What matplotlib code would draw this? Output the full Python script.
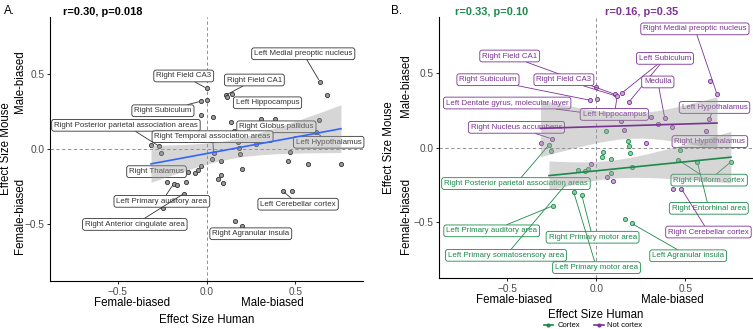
import numpy as np
import matplotlib
matplotlib.use("Agg")
import matplotlib.pyplot as plt
from matplotlib.lines import Line2D

plt.rcParams['font.family'] = ['Liberation Sans', 'DejaVu Sans']

# effect sizes per brain region (human, mouse) and cortex flag
human_es = [0.637, 0.678, 0.000, 0.002, -0.032, 0.107, 0.118, 0.144, 0.182,
            -0.312, -0.250, 0.138, 0.154, 0.305, 0.385, 0.349, 0.423, 0.280,
            0.617, 0.633, -0.030, 0.062, 0.092, 0.430, 0.478, 0.039, -0.030,
            0.056, 0.176, 0.184, 0.190, -0.265, -0.256, 0.040, 0.032, 0.083,
            0.468, 0.458, 0.568, 0.756, 0.200, -0.047, -0.062, -0.103, 0.083,
            -0.115, -0.221, -0.185, -0.165, -0.127, -0.081, -0.242, 0.163, 0.199]
mouse_es = [0.450, 0.360, 0.405, 0.327, 0.318, 0.358, 0.345, 0.367, 0.304,
            0.030, 0.059, 0.177, 0.117, 0.203, 0.198, 0.158, 0.138, 0.032,
            0.111, 0.191, -0.110, -0.200, -0.225, -0.281, -0.278, 0.213, 0.229,
            0.108, 0.045, 0.008, -0.036, 0.017, -0.025, -0.027, -0.065, -0.079,
            -0.018, -0.082, -0.100, -0.097, -0.134, -0.143, -0.157, -0.152, -0.172,
            -0.220, -0.220, -0.233, -0.242, -0.297, -0.320, -0.393, -0.480, -0.512]
is_cortex = [False] * 27 + [True] * 27

stats_a = "r=0.30, p=0.018"
stats_cortex = "r=0.33, p=0.10"
stats_other = "r=0.16, p=0.35"

# label text, text position (x, y), index of point(s) it refers to
labels_a = [
    ("Left Medial preoptic nucleus", 0.544, 0.635, [0]),
    ("Right Field CA3", -0.128, 0.487, [2]),
    ("Right Field CA1", 0.269, 0.460, [5]),
    ("Left Hippocampus", 0.343, 0.308, []),
    ("Right Subiculum", -0.245, 0.255, [4]),
    ("Right Posterior parietal association areas", -0.453, 0.158, [31]),
    ("Right Globus pallidus", 0.393, 0.148, []),
    ("Right Temporal association areas", 0.034, 0.082, [33]),
    ("Left Hypothalamus", 0.687, 0.045, [18]),
    ("Right Thalamus", -0.281, -0.151, []),
    ("Left Primary auditory area", -0.251, -0.349, [47]),
    ("Right Anterior cingulate area", -0.403, -0.503, [49]),
    ("Left Cerebellar cortex", 0.515, -0.368, [23]),
    ("Right Agranular insula", 0.249, -0.565, [53]),
]
labels_b = [
    ("Right Medial preoptic nucleus", 0.554, 0.800, [1]),
    ("Right Field CA1", -0.485, 0.617, [5]),
    ("Left Subiculum", 0.386, 0.601, [7, 8]),
    ("Right Subiculum", -0.607, 0.457, [4]),
    ("Right Field CA3", -0.181, 0.457, [6]),
    ("Medulla", 0.346, 0.442, [14]),
    ("Left Dentate gyrus, molecular layer", -0.499, 0.300, [26]),
    ("Left Hippocampus", 0.102, 0.223, [6]),
    ("Right Nucleus accumbens", -0.447, 0.136, [10]),
    ("Left Hypothalamus", 0.664, 0.270, [19]),
    ("Right Hypothalamus", 0.638, 0.040, []),
    ("Right Posterior parietal association areas", -0.450, -0.243, [31]),
    ("Right Piriform cortex", 0.634, -0.220, [37, 39]),
    ("Right Entorhinal area", 0.632, -0.410, [38]),
    ("Right Cerebellar cortex", 0.630, -0.570, [24]),
    ("Left Primary auditory area", -0.586, -0.562, [51]),
    ("Right Primary motor area", -0.020, -0.605, [50]),
    ("Left Primary somatosensory area", -0.506, -0.727, [48]),
    ("Left Primary motor area", 0.002, -0.810, [49]),
    ("Left Agranular insula", 0.516, -0.730, [53]),
]

x = np.array(human_es)
y = np.array(mouse_es)
cortex = np.array(is_cortex)

GREEN = "#1b8a4a"
PURPLE = "#7b3294"
W, H = 753, 329


def fit_band(ax, xs, ys, color, tval):
    b, a = np.polyfit(xs, ys, 1)
    xx = np.linspace(xs.min(), xs.max(), 80)
    yy = a + b * xx
    n = len(xs)
    resid = ys - (a + b * xs)
    s = np.sqrt(np.sum(resid ** 2) / (n - 2))
    se = s * np.sqrt(1 / n + (xx - xs.mean()) ** 2 / np.sum((xs - xs.mean()) ** 2))
    ax.fill_between(xx, yy - tval * se, yy + tval * se, color="#999999",
                    alpha=0.4, lw=0, zorder=4)
    ax.plot(xx, yy, color=color, lw=1.2, zorder=5)


def add_labels(ax, labels, color_of):
    for text, tx, ty, idx in labels:
        c = color_of(idx)
        if not idx:
            ax.text(tx, ty, text, ha="center", va="center", fontsize=5.7,
                    color=c, zorder=3,
                    bbox=dict(boxstyle="round,pad=0.3", fc="white", ec=c, lw=0.6))
        for k, i in enumerate(idx):
            ax.annotate(text, xy=(x[i], y[i]), xytext=(tx, ty),
                        ha="center", va="center", fontsize=5.7, color=c,
                        zorder=3, alpha=1 if k == 0 else 0,
                        bbox=dict(boxstyle="round,pad=0.3", fc="white", ec=c, lw=0.6)
                        if k == 0 else None,
                        arrowprops=dict(arrowstyle="-", color=c, lw=0.6,
                                        shrinkA=0, shrinkB=1.5))


def style_axes(ax):
    ax.set_xlim(-0.88, 0.88)
    ax.set_ylim(-0.88, 0.88)
    ax.set_xticks([-0.5, 0, 0.5])
    ax.set_yticks([-0.5, 0, 0.5])
    ax.set_xticklabels(["\u22120.5", "0.0", "0.5"])
    ax.set_yticklabels(["\u22120.5", "0.0", "0.5"])
    for sp in ["top", "right"]:
        ax.spines[sp].set_visible(False)
    for sp in ["left", "bottom"]:
        ax.spines[sp].set_linewidth(0.8)
    ax.tick_params(labelsize=7.3, labelcolor="#4d4d4d", length=2.5, width=0.6, pad=1.5)
    ax.axhline(0, color="#808080", ls=(0, (4, 3)), lw=0.6, zorder=1)
    ax.axvline(0, color="#808080", ls=(0, (4, 3)), lw=0.6, zorder=1)


fig = plt.figure(figsize=(W / 100, H / 100), dpi=100)
axA = fig.add_axes([50 / W, 1 - 281 / H, 313 / W, 264 / H])
axB = fig.add_axes([439.3 / W, 1 - 278 / H, 313.7 / W, 261 / H])

# panel A
style_axes(axA)
axA.scatter(x, y, s=9, facecolor="#9a9a9a", edgecolor="#333333", lw=0.6, zorder=2)
add_labels(axA, labels_a, lambda idx: "#333333")
fit_band(axA, x, y, "#3366ff", 2.007)

# panel B
style_axes(axB)
axB.scatter(x[cortex], y[cortex], s=9, facecolor="#8fd1a8", edgecolor=GREEN, lw=0.6, zorder=2)
axB.scatter(x[~cortex], y[~cortex], s=9, facecolor="#c9a6d6", edgecolor=PURPLE, lw=0.6, zorder=2)
add_labels(axB, labels_b,
           lambda idx: PURPLE if (not idx or not cortex[idx[0]]) else GREEN)
fit_band(axB, x[cortex], y[cortex], GREEN, 2.06)
fit_band(axB, x[~cortex], y[~cortex], PURPLE, 2.06)


def ftext(px, py, s, **kw):
    fig.text(px / W, 1 - py / H, s, ha=kw.pop("ha", "center"),
             va=kw.pop("va", "center"), **kw)


# panel letters and stats
ftext(4, 11, "A.", ha="left", fontsize=8.5)
ftext(63, 12, stats_a, ha="left", fontsize=7.9, weight="bold")
ftext(391, 11, "B.", ha="left", fontsize=8.5)
ftext(455, 12, stats_cortex, ha="left", fontsize=7.9, weight="bold", color=GREEN)
ftext(605, 12, stats_other, ha="left", fontsize=7.9, weight="bold", color=PURPLE)

# axis titles
ftext(6, 149, "Effect Size Mouse", rotation=90, fontsize=8.3)
ftext(20, 82, "Male-biased", rotation=90, fontsize=8.3)
ftext(20, 216, "Female-biased", rotation=90, fontsize=8.3)
ftext(389, 147.5, "Effect Size Mouse", rotation=90, fontsize=8.3)
ftext(406, 86, "Male-biased", rotation=90, fontsize=8.3)
ftext(406, 216, "Female-biased", rotation=90, fontsize=8.3)

ftext(131.7, 303, "Female-biased", fontsize=8.3)
ftext(272.7, 303, "Male-biased", fontsize=8.3)
ftext(206.7, 320, "Effect Size Human", fontsize=8.3)
ftext(514, 300, "Female-biased", fontsize=8.3)
ftext(672.5, 300, "Male-biased", fontsize=8.3)
ftext(595.7, 314.5, "Effect Size Human", fontsize=8.3)

handles = [Line2D([], [], color=GREEN, marker="o", ms=2, lw=1.2, label="Cortex"),
           Line2D([], [], color=PURPLE, marker="o", ms=2, lw=1.2, label="Not cortex")]
fig.legend(handles=handles, loc="center", bbox_to_anchor=(593 / W, 1 - 325.5 / H),
           ncol=2, frameon=False, fontsize=5.5, handlelength=1.3,
           columnspacing=1.8, handletextpad=0.5, borderpad=0)

fig.savefig("out.png", dpi=100)
